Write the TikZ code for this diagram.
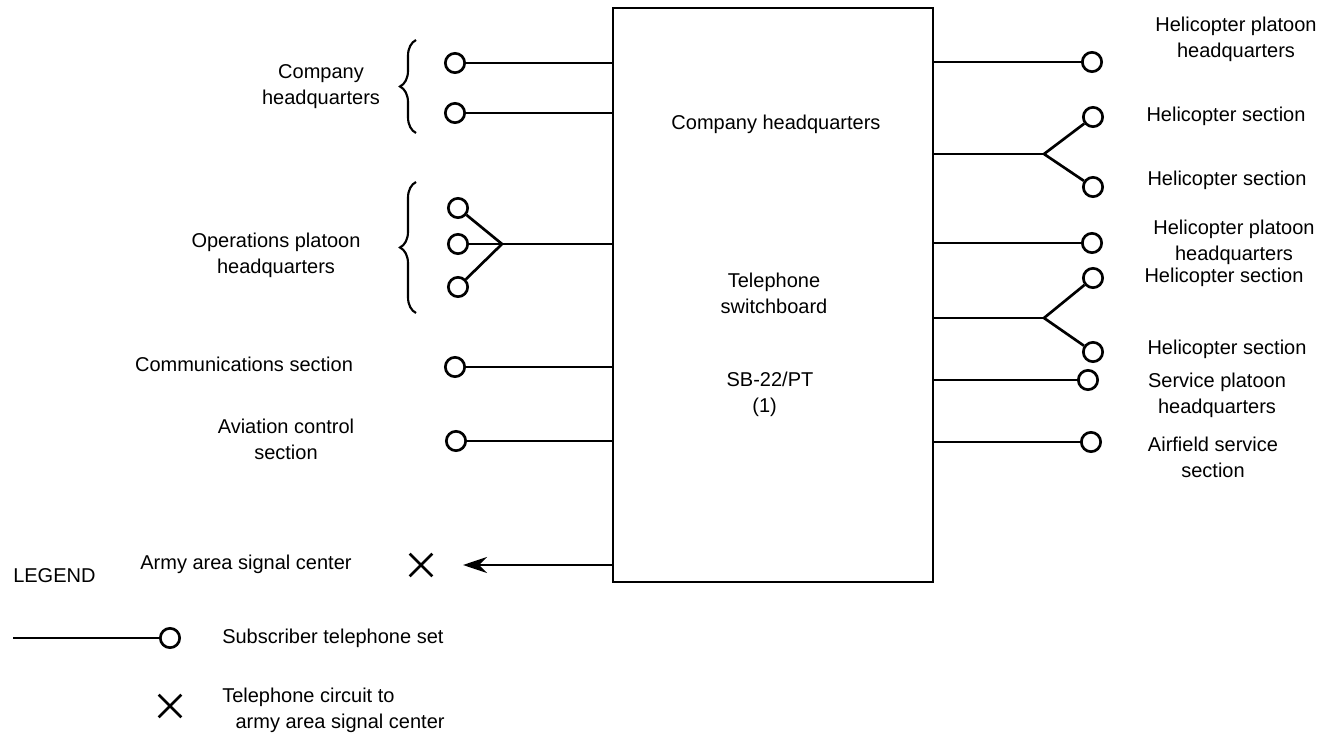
\documentclass[tikz,border=0pt]{standalone}
\usepackage{fontspec}
\setmainfont{Liberation Sans}
\usepackage{tikz}
\usetikzlibrary{arrows.meta,positioning,calc,shapes.misc,decorations.pathreplacing}
\tikzset{
  tel/.style   = {circle,draw,line width=2pt,minimum size=14.5pt,inner sep=0pt},
  xmark/.style = {cross out,draw,line width=2pt,minimum size=15pt,inner sep=0pt},
  wire/.style  = {line width=2pt},
  sig/.style   = {-{Stealth[length=18pt,width=12pt,inset=6pt]},line width=2pt},
  brc/.style   = {decorate,decoration={brace,amplitude=12pt},line width=1.6pt},
  lbl/.style   = {align=center,inner sep=0pt,font=\fontsize{15}{19.5}\selectfont},
  lbll/.style  = {lbl,align=left,anchor=west},
  board/.style = {draw,line width=2pt,minimum width=240pt,minimum height=430.5pt,
                  inner sep=0pt},
}

\begin{document}
\begin{tikzpicture}[x=0.75pt,y=-0.75pt]
  \useasboundingbox (0,0) rectangle (1329,734);
  % switchboard
  \node[board] (sb) at (773,295) {};
  \node[lbl] (sbco) at (776,124) {Company headquarters};
  \node[lbl] (sbtel) at (774,293) {Telephone\\switchboard};
  \node[lbl] (sbtype) at (770,394) {SB-22/PT\\\hspace*{-8pt}(1)};
  % left side
  \node[tel] (ch1) at (455,63) {};
  \node[tel] (ch2) at (455,113) {};
  \draw[wire] (ch1) -- (ch1 -| sb.west);
  \draw[wire] (ch2) -- (ch2 -| sb.west);
  \draw[brc] (416,133) -- (416,40);
  \node[lbl] (chlbl) at (321,87) {Company\\headquarters};
  \node[tel] (op1) at (458,208) {};
  \node[tel] (op2) at (458,244) {};
  \node[tel] (op3) at (458,287) {};
  \coordinate (opj) at (502,244);
  \draw[wire] (opj -| sb.west) -- (opj);
  \foreach \n in {op1,op2,op3}
    \draw[wire] (\n) -- (opj);
  \draw[brc] (416,313) -- (416,182);
  \node[lbl] (oplbl) at (276,255) {Operations platoon\\headquarters};
  \node[tel] (cs) at (455,367) {};
  \draw[wire] (cs) -- (cs -| sb.west);
  \node[lbl] (cslbl) at (244,364) {Communications section};
  \node[tel] (ac) at (456,441) {};
  \draw[wire] (ac) -- (ac -| sb.west);
  \node[lbl] (aclbl) at (286,439) {Aviation control\\section};
  \node[xmark] (asc) at (421,565) {};
  \draw[sig,shorten >=23pt] (asc -| sb.west) -- (asc);
  \node[lbl] (asclbl) at (246,564) {Army area signal center};
  % right side
  \node[tel] (hp1) at (1092,62) {};
  \draw[wire] (hp1 -| sb.east) -- (hp1);
  \node[lbl] (hp1lbl) at (1236,39) {Helicopter platoon\\headquarters};
  \node[tel] (hs1) at (1093,117) {};
  \node[tel] (hs2) at (1093,187) {};
  \coordinate (hj1) at (1044,154);
  \draw[wire] (hj1 -| sb.east) -- (hj1);
  \draw[wire] (hj1) -- (hs1);
  \draw[wire] (hj1) -- (hs2);
  \node[lbl] (hs1lbl) at (1226,116) {Helicopter section};
  \node[lbl] (hs2lbl) at (1227,180) {Helicopter section};
  \node[tel] (hp2) at (1092,243) {};
  \draw[wire] (hp2 -| sb.east) -- (hp2);
  \node[lbl] (hp2lbl) at (1234,242) {Helicopter platoon\\headquarters};
  \node[tel] (hs3) at (1093,278) {};
  \node[tel] (hs4) at (1093,352) {};
  \coordinate (hj2) at (1044,318);
  \draw[wire] (hj2 -| sb.east) -- (hj2);
  \draw[wire] (hj2) -- (hs3);
  \draw[wire] (hj2) -- (hs4);
  \node[lbl] (hs3lbl) at (1224,277) {Helicopter section};
  \node[lbl] (hs4lbl) at (1227,349) {Helicopter section};
  \node[tel] (sp) at (1088,380) {};
  \draw[wire] (sp -| sb.east) -- (sp);
  \node[lbl] (splbl) at (1217,395) {Service platoon\\headquarters};
  \node[tel] (af) at (1091,442) {};
  \draw[wire] (af -| sb.east) -- (af);
  \node[lbl] (aflbl) at (1213,457) {Airfield service\\section};
  % legend
  \node[lbll] (leg) at (13,576) {LEGEND};
  \coordinate (lgs) at (13,638);
  \node[tel] (lgtel) at (170,638) {};
  \draw[wire] (lgs) -- (lgtel);
  \node[lbll] (lgtellbl) at (222,638) {Subscriber telephone set};
  \node[xmark] (lgx) at (170,706) {};
  \node[lbll] (lgxlbl) at (222,710) {Telephone circuit to\\\hspace*{10pt}army area signal center};
\end{tikzpicture}
\end{document}
